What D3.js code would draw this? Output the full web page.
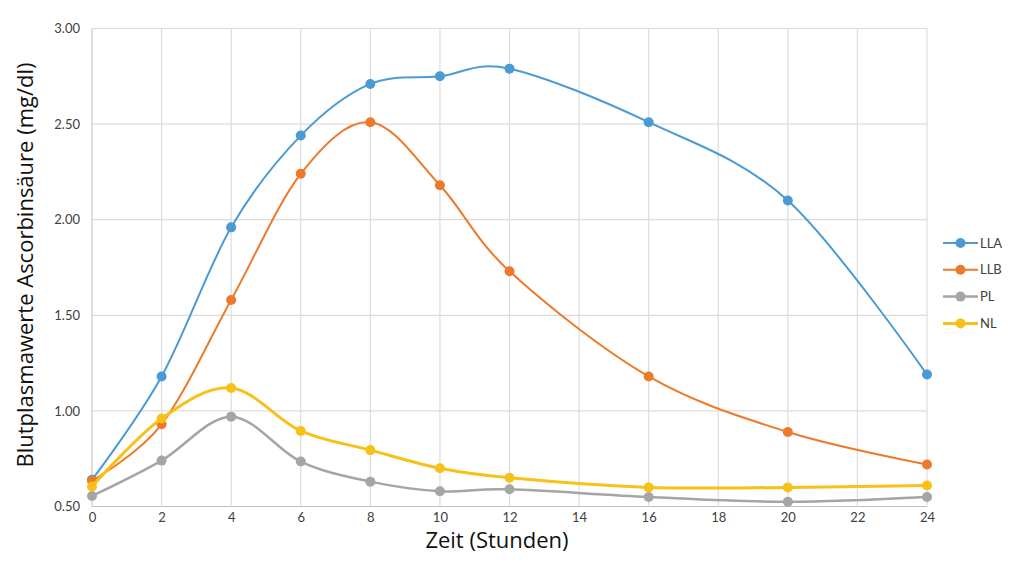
<!DOCTYPE html>
<meta charset="utf-8">
<script src="https://d3js.org/d3.v7.min.js"></script>
<body style="margin:0;background:#fff">
<div id="canvas"></div>
<script>

	// Zeitpunkte (Stunden)
	var hours = [0, 2, 4, 6, 8, 10, 12, 16, 20, 24];
	var xTicks = [0, 2, 4, 6, 8, 10, 12, 14, 16, 18, 20, 22, 24];
	var yTicks = [0.5, 1.0, 1.5, 2.0, 2.5, 3.0];

	// Messwerte Ascorbinsäure (mg/dl)
	var seriesNames = ["LLA", "LLB", "PL", "NL"];
	var lla = [0.64, 1.18, 1.96, 2.44, 2.71, 2.75, 2.79, 2.51, 2.10, 1.19];
	var llb = [0.635, 0.93, 1.58, 2.24, 2.51, 2.18, 1.73, 1.18, 0.89, 0.72];
	var pl  = [0.555, 0.74, 0.97, 0.735, 0.63, 0.58, 0.59, 0.55, 0.525, 0.55];
	var nl  = [0.605, 0.96, 1.12, 0.895, 0.795, 0.70, 0.65, 0.60, 0.60, 0.61];
	var colors = ["#4a9bd3", "#ec7a2a", "#a5a5a5", "#f7c119"];
	var widths = [2, 2, 2.5, 3];

	var series = [lla, llb, pl, nl];

	var width = 1020;
	var height = 562;

	var svg = d3.select('#canvas')
		.append("svg")
		    .attr("width", width)
		    .attr("height", height)
		    .style("font-family", "Lato, 'Open Sans', sans-serif");

	var x = d3.scaleLinear().domain([0, 24]).range([92, 927]);
	var y = d3.scaleLinear().domain([0.5, 3.0]).range([506.5, 28.5]);

	// Gitterlinien
	svg.append("g").selectAll("line")
		.data(yTicks)
		.enter().append("line")
		.attr("x1", x(0)).attr("x2", x(24))
		.attr("y1", function(d){ return y(d); })
		.attr("y2", function(d){ return y(d); })
		.attr("stroke", function(d){ return d == 0.5 ? "#bfbfbf" : "#dcdcdc"; })
		.attr("stroke-width", 1.2);

	svg.append("g").selectAll("line")
		.data(xTicks)
		.enter().append("line")
		.attr("x1", function(d){ return x(d); })
		.attr("x2", function(d){ return x(d); })
		.attr("y1", y(3.0)).attr("y2", y(0.5))
		.attr("stroke", function(d){ return d == 0 ? "#c8c8c8" : "#dcdcdc"; })
		.attr("stroke-width", 1.2);

	// Achsen (nur Beschriftung)
	var xAxis = svg.append("g")
		.attr("transform", "translate(0," + (y(0.5) + 2) + ")")
		.call(d3.axisBottom(x).tickValues(xTicks).tickSize(0).tickPadding(4).tickFormat(d3.format("d")));
	var yAxis = svg.append("g")
		.attr("transform", "translate(" + (x(0) - 10) + ",0)")
		.call(d3.axisLeft(y).tickValues(yTicks).tickSize(0).tickPadding(2).tickFormat(d3.format(".2f")));
	[xAxis, yAxis].forEach(function(a){
		a.select(".domain").remove();
		a.selectAll("text")
			.attr("fill", "#404040")
			.style("font-size", "13px")
			.style("font-family", "Lato, 'Open Sans', sans-serif");
	});

	// Linien
	var line = d3.line()
		.x(function(d, i){ return x(hours[i]); })
		.y(function(d){ return y(d); })
		.curve(d3.curveCardinal.tension(0));

	series.forEach(function(s, k){
		svg.append("path")
			.attr("d", line(s))
			.attr("fill", "none")
			.attr("stroke", colors[k])
			.attr("stroke-width", widths[k]);
		svg.append("g").selectAll("circle")
			.data(s)
			.enter().append("circle")
			.attr("cx", function(d, i){ return x(hours[i]); })
			.attr("cy", function(d){ return y(d); })
			.attr("r", 5)
			.attr("fill", colors[k]);
	});

	// Legende
	var legend = svg.append("g").selectAll("g")
		.data(seriesNames)
		.enter().append("g")
		.attr("transform", function(d, i){ return "translate(943," + (243 + i * 26.8) + ")"; });
	legend.append("line")
		.attr("x1", 0).attr("x2", 35)
		.attr("stroke", function(d, i){ return colors[i]; })
		.attr("stroke-width", function(d, i){ return widths[i]; });
	legend.append("circle")
		.attr("cx", 17.5).attr("r", 5)
		.attr("fill", function(d, i){ return colors[i]; });
	legend.append("text")
		.attr("x", 37).attr("dy", "0.35em")
		.attr("fill", "#404040")
		.style("font-size", "13px")
		.text(function(d){ return d; });

	// Achsentitel
	svg.append("text")
		.attr("transform", "translate(33,265) rotate(-90)")
		.attr("text-anchor", "middle")
		.style("font-family", "'Open Sans', sans-serif")
		.style("font-size", "22px")
		.attr("fill", "#111")
		.text("Blutplasmawerte Ascorbinsäure (mg/dl)");

	svg.append("text")
		.attr("x", 497).attr("y", 548)
		.attr("text-anchor", "middle")
		.style("font-family", "'Open Sans', sans-serif")
		.style("font-size", "22px")
		.attr("fill", "#111")
		.text("Zeit (Stunden)");
</script>
</body>
